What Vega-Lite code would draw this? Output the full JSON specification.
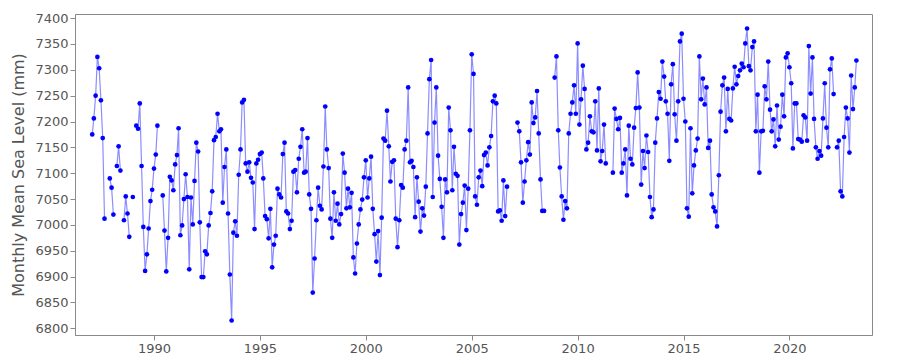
{
  "$schema": "https://vega.github.io/schema/vega-lite/v6.json",
  "width": 797,
  "height": 321,
  "autosize": "none",
  "padding": {"left": 75, "top": 14, "right": 28, "bottom": 25},
  "background": "white",
  "config": {
    "view": {"stroke": "#8a8a8a", "strokeWidth": 1},
    "font": "DejaVu Sans",
    "axis": {
      "grid": false,
      "domainColor": "#8a8a8a",
      "tickColor": "#8a8a8a",
      "labelColor": "#555555",
      "titleColor": "#555555",
      "labelFontSize": 13,
      "titleFontSize": 16,
      "titleFontWeight": "normal",
      "labelFont": "DejaVu Sans",
      "titleFont": "DejaVu Sans"
    }
  },
  "data": {"values": [
    {"m":"1987-02","v":7175},{"m":"1987-03","v":7206},{"m":"1987-04","v":7250},{"m":"1987-05","v":7325},{"m":"1987-06","v":7303},{"m":"1987-07","v":7241},{"m":"1987-08","v":7168},{"m":"1987-09","v":7012},{"m":"1987-10","v":null},{"m":"1987-11","v":null},{"m":"1987-12","v":7090},
    {"m":"1988-01","v":7072},{"m":"1988-02","v":7020},{"m":"1988-03","v":null},{"m":"1988-04","v":7114},{"m":"1988-05","v":7152},{"m":"1988-06","v":7105},{"m":"1988-07","v":null},{"m":"1988-08","v":7009},{"m":"1988-09","v":7055},{"m":"1988-10","v":7022},{"m":"1988-11","v":6977},{"m":"1988-12","v":null},
    {"m":"1989-01","v":7054},{"m":"1989-02","v":null},{"m":"1989-03","v":7192},{"m":"1989-04","v":7186},{"m":"1989-05","v":7235},{"m":"1989-06","v":7114},{"m":"1989-07","v":6996},{"m":"1989-08","v":6911},{"m":"1989-09","v":6943},{"m":"1989-10","v":6993},{"m":"1989-11","v":7046},{"m":"1989-12","v":7068},
    {"m":"1990-01","v":7109},{"m":"1990-02","v":7136},{"m":"1990-03","v":7192},{"m":"1990-04","v":null},{"m":"1990-05","v":null},{"m":"1990-06","v":7057},{"m":"1990-07","v":6989},{"m":"1990-08","v":6910},{"m":"1990-09","v":6975},{"m":"1990-10","v":7093},{"m":"1990-11","v":7086},{"m":"1990-12","v":7067},
    {"m":"1991-01","v":7117},{"m":"1991-02","v":7135},{"m":"1991-03","v":7187},{"m":"1991-04","v":6980},{"m":"1991-05","v":6999},{"m":"1991-06","v":7050},{"m":"1991-07","v":7098},{"m":"1991-08","v":7054},{"m":"1991-09","v":6914},{"m":"1991-10","v":7053},{"m":"1991-11","v":7001},{"m":"1991-12","v":7085},
    {"m":"1992-01","v":7159},{"m":"1992-02","v":7142},{"m":"1992-03","v":7005},{"m":"1992-04","v":6899},{"m":"1992-05","v":6899},{"m":"1992-06","v":6949},{"m":"1992-07","v":6943},{"m":"1992-08","v":6999},{"m":"1992-09","v":7023},{"m":"1992-10","v":7065},{"m":"1992-11","v":7164},{"m":"1992-12","v":7170},
    {"m":"1993-01","v":7215},{"m":"1993-02","v":7181},{"m":"1993-03","v":7185},{"m":"1993-04","v":7043},{"m":"1993-05","v":7112},{"m":"1993-06","v":7146},{"m":"1993-07","v":7022},{"m":"1993-08","v":6904},{"m":"1993-09","v":6815},{"m":"1993-10","v":6985},{"m":"1993-11","v":7007},{"m":"1993-12","v":6979},
    {"m":"1994-01","v":7097},{"m":"1994-02","v":7146},{"m":"1994-03","v":7237},{"m":"1994-04","v":7242},{"m":"1994-05","v":7119},{"m":"1994-06","v":7103},{"m":"1994-07","v":7121},{"m":"1994-08","v":7091},{"m":"1994-09","v":7082},{"m":"1994-10","v":6992},{"m":"1994-11","v":7119},{"m":"1994-12","v":7126},
    {"m":"1995-01","v":7137},{"m":"1995-02","v":7140},{"m":"1995-03","v":7090},{"m":"1995-04","v":7017},{"m":"1995-05","v":7011},{"m":"1995-06","v":6974},{"m":"1995-07","v":7031},{"m":"1995-08","v":6918},{"m":"1995-09","v":6962},{"m":"1995-10","v":6979},{"m":"1995-11","v":7070},{"m":"1995-12","v":7059},
    {"m":"1996-01","v":7053},{"m":"1996-02","v":7137},{"m":"1996-03","v":7159},{"m":"1996-04","v":7026},{"m":"1996-05","v":7022},{"m":"1996-06","v":6992},{"m":"1996-07","v":7008},{"m":"1996-08","v":7103},{"m":"1996-09","v":7106},{"m":"1996-10","v":7063},{"m":"1996-11","v":7128},{"m":"1996-12","v":7151},
    {"m":"1997-01","v":7185},{"m":"1997-02","v":7101},{"m":"1997-03","v":7103},{"m":"1997-04","v":7168},{"m":"1997-05","v":7059},{"m":"1997-06","v":7031},{"m":"1997-07","v":6869},{"m":"1997-08","v":6935},{"m":"1997-09","v":7009},{"m":"1997-10","v":7072},{"m":"1997-11","v":7037},{"m":"1997-12","v":7030},
    {"m":"1998-01","v":7113},{"m":"1998-02","v":7229},{"m":"1998-03","v":7146},{"m":"1998-04","v":7110},{"m":"1998-05","v":7012},{"m":"1998-06","v":6975},{"m":"1998-07","v":7063},{"m":"1998-08","v":7008},{"m":"1998-09","v":7041},{"m":"1998-10","v":7001},{"m":"1998-11","v":7021},{"m":"1998-12","v":7138},
    {"m":"1999-01","v":7101},{"m":"1999-02","v":7032},{"m":"1999-03","v":7070},{"m":"1999-04","v":7034},{"m":"1999-05","v":7062},{"m":"1999-06","v":6937},{"m":"1999-07","v":6906},{"m":"1999-08","v":6964},{"m":"1999-09","v":7001},{"m":"1999-10","v":7030},{"m":"1999-11","v":7049},{"m":"1999-12","v":7092},
    {"m":"2000-01","v":7125},{"m":"2000-02","v":7053},{"m":"2000-03","v":7090},{"m":"2000-04","v":7132},{"m":"2000-05","v":7031},{"m":"2000-06","v":6982},{"m":"2000-07","v":6929},{"m":"2000-08","v":6988},{"m":"2000-09","v":6903},{"m":"2000-10","v":7014},{"m":"2000-11","v":7167},{"m":"2000-12","v":7163},
    {"m":"2001-01","v":7221},{"m":"2001-02","v":7152},{"m":"2001-03","v":7084},{"m":"2001-04","v":7122},{"m":"2001-05","v":7125},{"m":"2001-06","v":7012},{"m":"2001-07","v":6957},{"m":"2001-08","v":7009},{"m":"2001-09","v":7077},{"m":"2001-10","v":7072},{"m":"2001-11","v":7146},{"m":"2001-12","v":7163},
    {"m":"2002-01","v":7266},{"m":"2002-02","v":7121},{"m":"2002-03","v":7124},{"m":"2002-04","v":7112},{"m":"2002-05","v":7015},{"m":"2002-06","v":7092},{"m":"2002-07","v":7045},{"m":"2002-08","v":6987},{"m":"2002-09","v":7032},{"m":"2002-10","v":7018},{"m":"2002-11","v":7074},{"m":"2002-12","v":7177},
    {"m":"2003-01","v":7282},{"m":"2003-02","v":7319},{"m":"2003-03","v":7054},{"m":"2003-04","v":7198},{"m":"2003-05","v":7266},{"m":"2003-06","v":7134},{"m":"2003-07","v":7089},{"m":"2003-08","v":7035},{"m":"2003-09","v":6975},{"m":"2003-10","v":7088},{"m":"2003-11","v":7063},{"m":"2003-12","v":7227},
    {"m":"2004-01","v":7183},{"m":"2004-02","v":7067},{"m":"2004-03","v":7151},{"m":"2004-04","v":7099},{"m":"2004-05","v":7095},{"m":"2004-06","v":6962},{"m":"2004-07","v":7021},{"m":"2004-08","v":7043},{"m":"2004-09","v":7076},{"m":"2004-10","v":6990},{"m":"2004-11","v":7070},{"m":"2004-12","v":7183},
    {"m":"2005-01","v":7330},{"m":"2005-02","v":7292},{"m":"2005-03","v":7055},{"m":"2005-04","v":7039},{"m":"2005-05","v":7092},{"m":"2005-06","v":7105},{"m":"2005-07","v":7075},{"m":"2005-08","v":7135},{"m":"2005-09","v":7140},{"m":"2005-10","v":7115},{"m":"2005-11","v":7150},{"m":"2005-12","v":7172},
    {"m":"2006-01","v":7239},{"m":"2006-02","v":7250},{"m":"2006-03","v":7235},{"m":"2006-04","v":7026},{"m":"2006-05","v":7028},{"m":"2006-06","v":7008},{"m":"2006-07","v":7086},{"m":"2006-08","v":7017},{"m":"2006-09","v":7074},{"m":"2006-10","v":null},{"m":"2006-11","v":null},{"m":"2006-12","v":null},
    {"m":"2007-01","v":null},{"m":"2007-02","v":null},{"m":"2007-03","v":7198},{"m":"2007-04","v":7181},{"m":"2007-05","v":7121},{"m":"2007-06","v":7043},{"m":"2007-07","v":7084},{"m":"2007-08","v":7125},{"m":"2007-09","v":7160},{"m":"2007-10","v":7136},{"m":"2007-11","v":7237},{"m":"2007-12","v":7197},
    {"m":"2008-01","v":7208},{"m":"2008-02","v":7259},{"m":"2008-03","v":7177},{"m":"2008-04","v":7088},{"m":"2008-05","v":7027},{"m":"2008-06","v":7027},{"m":"2008-07","v":null},{"m":"2008-08","v":null},{"m":"2008-09","v":null},{"m":"2008-10","v":null},{"m":"2008-11","v":null},{"m":"2008-12","v":7285},
    {"m":"2009-01","v":7326},{"m":"2009-02","v":7183},{"m":"2009-03","v":7111},{"m":"2009-04","v":7055},{"m":"2009-05","v":7010},{"m":"2009-06","v":7046},{"m":"2009-07","v":7032},{"m":"2009-08","v":7177},{"m":"2009-09","v":7215},{"m":"2009-10","v":7237},{"m":"2009-11","v":7270},{"m":"2009-12","v":7215},
    {"m":"2010-01","v":7351},{"m":"2010-02","v":7194},{"m":"2010-03","v":7243},{"m":"2010-04","v":7308},{"m":"2010-05","v":7263},{"m":"2010-06","v":7146},{"m":"2010-07","v":7159},{"m":"2010-08","v":7210},{"m":"2010-09","v":7181},{"m":"2010-10","v":7179},{"m":"2010-11","v":7239},{"m":"2010-12","v":7144},
    {"m":"2011-01","v":7264},{"m":"2011-02","v":7123},{"m":"2011-03","v":7143},{"m":"2011-04","v":7194},{"m":"2011-05","v":7119},{"m":"2011-06","v":null},{"m":"2011-07","v":null},{"m":"2011-08","v":null},{"m":"2011-09","v":7101},{"m":"2011-10","v":7225},{"m":"2011-11","v":7205},{"m":"2011-12","v":7185},
    {"m":"2012-01","v":7207},{"m":"2012-02","v":7101},{"m":"2012-03","v":7119},{"m":"2012-04","v":7146},{"m":"2012-05","v":7057},{"m":"2012-06","v":7192},{"m":"2012-07","v":7128},{"m":"2012-08","v":7117},{"m":"2012-09","v":7188},{"m":"2012-10","v":7226},{"m":"2012-11","v":7295},{"m":"2012-12","v":7227},
    {"m":"2013-01","v":7078},{"m":"2013-02","v":7143},{"m":"2013-03","v":7110},{"m":"2013-04","v":7173},{"m":"2013-05","v":7141},{"m":"2013-06","v":7054},{"m":"2013-07","v":7015},{"m":"2013-08","v":7030},{"m":"2013-09","v":7159},{"m":"2013-10","v":7206},{"m":"2013-11","v":7257},{"m":"2013-12","v":7244},
    {"m":"2014-01","v":7316},{"m":"2014-02","v":7287},{"m":"2014-03","v":7239},{"m":"2014-04","v":7215},{"m":"2014-05","v":7124},{"m":"2014-06","v":7272},{"m":"2014-07","v":7311},{"m":"2014-08","v":7214},{"m":"2014-09","v":7163},{"m":"2014-10","v":7239},{"m":"2014-11","v":7355},{"m":"2014-12","v":7370},
    {"m":"2015-01","v":7244},{"m":"2015-02","v":7200},{"m":"2015-03","v":7032},{"m":"2015-04","v":7016},{"m":"2015-05","v":7187},{"m":"2015-06","v":7061},{"m":"2015-07","v":7115},{"m":"2015-08","v":7144},{"m":"2015-09","v":7167},{"m":"2015-10","v":7326},{"m":"2015-11","v":7243},{"m":"2015-12","v":7283},
    {"m":"2016-01","v":7233},{"m":"2016-02","v":7266},{"m":"2016-03","v":7149},{"m":"2016-04","v":7163},{"m":"2016-05","v":7059},{"m":"2016-06","v":7034},{"m":"2016-07","v":7026},{"m":"2016-08","v":6997},{"m":"2016-09","v":7096},{"m":"2016-10","v":7219},{"m":"2016-11","v":7270},{"m":"2016-12","v":7285},
    {"m":"2017-01","v":7181},{"m":"2017-02","v":7263},{"m":"2017-03","v":7205},{"m":"2017-04","v":7202},{"m":"2017-05","v":7264},{"m":"2017-06","v":7306},{"m":"2017-07","v":7272},{"m":"2017-08","v":7288},{"m":"2017-09","v":7299},{"m":"2017-10","v":7312},{"m":"2017-11","v":7305},{"m":"2017-12","v":7351},
    {"m":"2018-01","v":7380},{"m":"2018-02","v":7307},{"m":"2018-03","v":7299},{"m":"2018-04","v":7344},{"m":"2018-05","v":7355},{"m":"2018-06","v":7181},{"m":"2018-07","v":7252},{"m":"2018-08","v":7101},{"m":"2018-09","v":7181},{"m":"2018-10","v":7182},{"m":"2018-11","v":7268},{"m":"2018-12","v":7243},
    {"m":"2019-01","v":7316},{"m":"2019-02","v":7223},{"m":"2019-03","v":7181},{"m":"2019-04","v":7204},{"m":"2019-05","v":7152},{"m":"2019-06","v":7231},{"m":"2019-07","v":7165},{"m":"2019-08","v":7190},{"m":"2019-09","v":7252},{"m":"2019-10","v":7210},{"m":"2019-11","v":7324},{"m":"2019-12","v":7332},
    {"m":"2020-01","v":7305},{"m":"2020-02","v":7274},{"m":"2020-03","v":7148},{"m":"2020-04","v":7235},{"m":"2020-05","v":7235},{"m":"2020-06","v":7166},{"m":"2020-07","v":7165},{"m":"2020-08","v":7161},{"m":"2020-09","v":7212},{"m":"2020-10","v":7208},{"m":"2020-11","v":7163},{"m":"2020-12","v":7346},
    {"m":"2021-01","v":7254},{"m":"2021-02","v":7324},{"m":"2021-03","v":7205},{"m":"2021-04","v":7150},{"m":"2021-05","v":7128},{"m":"2021-06","v":7143},{"m":"2021-07","v":7134},{"m":"2021-08","v":7206},{"m":"2021-09","v":7274},{"m":"2021-10","v":7188},{"m":"2021-11","v":7150},{"m":"2021-12","v":7301},
    {"m":"2022-01","v":7322},{"m":"2022-02","v":7253},{"m":"2022-03","v":null},{"m":"2022-04","v":7150},{"m":"2022-05","v":7163},{"m":"2022-06","v":7065},{"m":"2022-07","v":7055},{"m":"2022-08","v":7170},{"m":"2022-09","v":7227},{"m":"2022-10","v":7206},{"m":"2022-11","v":7140},{"m":"2022-12","v":7289},
    {"m":"2023-01","v":7224},{"m":"2023-02","v":7266},{"m":"2023-03","v":7318}
  ]},
  "encoding": {
    "x": {
      "field": "m",
      "type": "temporal",
      "scale": {"domain": [{"year": 1986, "month": 4, "date": 10}, {"year": 2023, "month": 11, "date": 25}]},
      "axis": {
        "title": null,
        "format": "%Y",
        "values": [{"year": 1990}, {"year": 1995}, {"year": 2000}, {"year": 2005}, {"year": 2010}, {"year": 2015}, {"year": 2020}],
        "labelFlush": false,
        "tickSize": 5
      }
    },
    "y": {
      "field": "v",
      "type": "quantitative",
      "scale": {"domain": [6787, 7408], "zero": false, "nice": false},
      "axis": {
        "title": "Monthly Mean Sea Level (mm)",
        "values": [6800, 6850, 6900, 6950, 7000, 7050, 7100, 7150, 7200, 7250, 7300, 7350, 7400],
        "format": "d",
        "tickSize": 5,
        "titlePadding": 8
      }
    }
  },
  "layer": [
    {"mark": {"type": "line", "color": "#0000ff", "opacity": 0.45, "strokeWidth": 1.2, "invalid": "break-paths-filter-domains"}},
    {"mark": {"type": "point", "filled": true, "color": "#0000ff", "opacity": 1, "size": 22}}
  ]
}
